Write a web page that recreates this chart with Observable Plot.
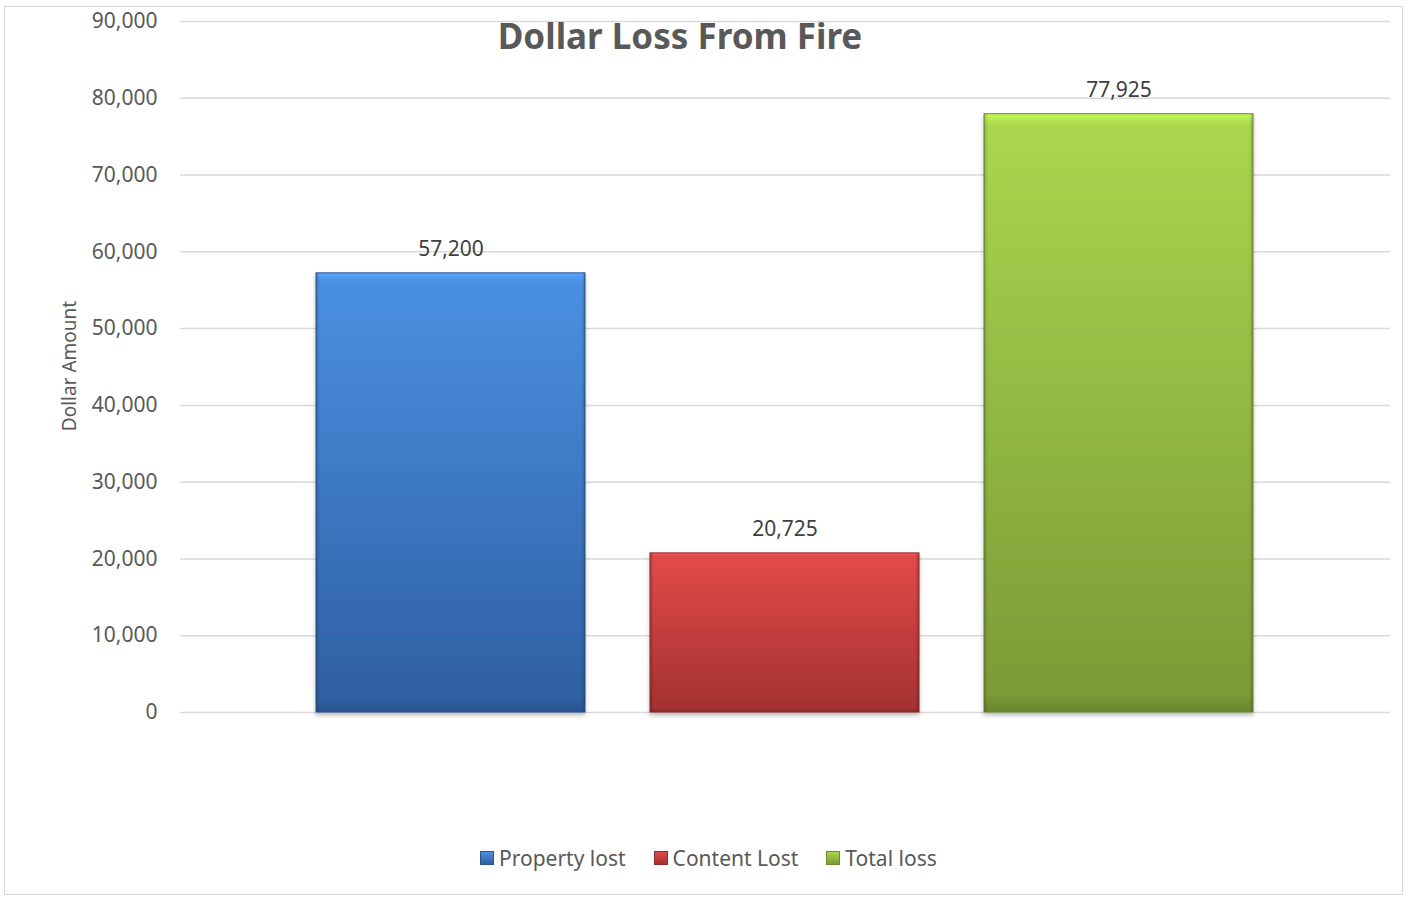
<!DOCTYPE html>
<html>
<head>
<meta charset="utf-8">
<script src="https://cdn.jsdelivr.net/npm/d3@7"></script>
<script src="https://cdn.jsdelivr.net/npm/@observablehq/plot@0.6"></script>
<style>
  html, body { margin: 0; padding: 0; background: #fff; }
  #wrap { position: relative; width: 1408px; height: 897px; font-family: "Noto Sans", sans-serif; overflow: hidden; }
  #border { position: absolute; left: 4px; top: 6px; width: 1399px; height: 889px; border: 1.5px solid #d9d9d9; box-sizing: border-box; }
  #chart { position: absolute; left: 0; top: 0; }
  #title { position: absolute; left: 430px; width: 500px; top: 18px; text-align: center; font-size: 35px; line-height: 35px; font-weight: 700; color: #595959; }
  #ylabel { position: absolute; left: 69px; top: 366px; transform: translate(-50%, -50%) rotate(-90deg); font-size: 19px; color: #595959; white-space: nowrap; }
  #legend { position: absolute; left: 480px; top: 844px; display: flex; align-items: center; font-size: 21px; color: #595959; }
  .item { display: flex; align-items: center; margin-right: 28px; }
  .sw { width: 14px; height: 14px; margin-right: 5px; box-sizing: border-box; }
</style>
</head>
<body>
<div id="wrap">
  <div id="border"></div>
  <div id="chart"></div>
  <div id="title">Dollar Loss From Fire</div>
  <div id="ylabel">Dollar Amount</div>
  <div id="legend"></div>
</div>
<script>
// ---- data ----
const categories = ["Property lost", "Content Lost", "Total loss"];
const values = [57200, 20725, 77925];
const yTicks = [0, 10000, 20000, 30000, 40000, 50000, 60000, 70000, 80000, 90000];

// ---- palette ----
const topColors = ["#4b90e2", "#e24a4a", "#aad64e"];
const bottomColors = ["#2f60a3", "#a53232", "#7a9b37"];
const strokeColors = ["#2a5590", "#922b2b", "#6b8a30"];

const data = categories.map((c, i) => ({category: c, value: values[i], idx: i}));
const fmt = d3.format(",");

const defsMark = () => {
  const defs = d3.create("svg:defs");
  categories.forEach((c, i) => {
    const g = defs.append("linearGradient").attr("id", "grad" + i)
      .attr("x1", 0).attr("y1", 0).attr("x2", 0).attr("y2", 1);
    g.append("stop").attr("offset", "0%").attr("stop-color", d3.color(topColors[i]).brighter(0.4));
    g.append("stop").attr("offset", "2%").attr("stop-color", topColors[i]);
    g.append("stop").attr("offset", "97%").attr("stop-color", bottomColors[i]);
    g.append("stop").attr("offset", "100%").attr("stop-color", d3.color(bottomColors[i]).darker(0.4));
  });
  const sh = defs.append("linearGradient").attr("id", "side")
    .attr("x1", 0).attr("y1", 0).attr("x2", 1).attr("y2", 0);
  sh.append("stop").attr("offset", "0%").attr("stop-color", "#000").attr("stop-opacity", 0.18);
  sh.append("stop").attr("offset", "1.5%").attr("stop-color", "#000").attr("stop-opacity", 0);
  sh.append("stop").attr("offset", "98.5%").attr("stop-color", "#000").attr("stop-opacity", 0);
  sh.append("stop").attr("offset", "100%").attr("stop-color", "#000").attr("stop-opacity", 0.18);
  const f = defs.append("filter").attr("id", "shadow").attr("x", "-5%").attr("y", "-5%").attr("width", "110%").attr("height", "110%");
  f.append("feDropShadow").attr("dx", 0).attr("dy", 3).attr("stdDeviation", 2).attr("flood-color", "#000").attr("flood-opacity", 0.25);
  return defs.node();
};

const chart = Plot.plot({
  width: 1408,
  height: 740,
  marginTop: 21,
  marginBottom: 28,
  marginLeft: 180,
  marginRight: 18,
  style: {fontFamily: "Noto Sans", fontSize: "21px", color: "#595959", background: "transparent"},
  x: {domain: categories, paddingInner: 0.194, paddingOuter: 0.403, axis: null},
  y: {domain: [0, 90000]},
  marks: [
    defsMark,
    Plot.gridY(yTicks, {stroke: "#d9d9d9", strokeOpacity: 1, strokeWidth: 1.5}),
    Plot.axisY(yTicks, {tickSize: 0, tickPadding: 23, tickFormat: fmt, fill: "#595959", fontSize: 21, label: null}),
    ...categories.map((c, i) => Plot.barY(data.filter(d => d.idx === i), {
      x: "category", y: "value", fill: `url(#grad${i})`, stroke: strokeColors[i], strokeWidth: 1, className: "bar"
    })),
    Plot.barY(data, {x: "category", y: "value", fill: "url(#side)"}),
    Plot.text(data, {x: "category", y: "value", text: d => fmt(d.value), dy: -24, fill: "#404040", fontSize: 21})
  ]
});
chart.querySelectorAll(".bar").forEach(g => g.setAttribute("filter", "url(#shadow)"));
document.getElementById("chart").appendChild(chart);

// legend
const legend = document.getElementById("legend");
categories.forEach((c, i) => {
  const item = document.createElement("div");
  item.className = "item";
  const sw = document.createElement("div");
  sw.className = "sw";
  sw.style.background = `linear-gradient(${topColors[i]}, ${bottomColors[i]})`;
  sw.style.border = `1px solid ${strokeColors[i]}`;
  const t = document.createElement("span");
  t.textContent = c;
  item.appendChild(sw);
  item.appendChild(t);
  legend.appendChild(item);
});
</script>
</body>
</html>
